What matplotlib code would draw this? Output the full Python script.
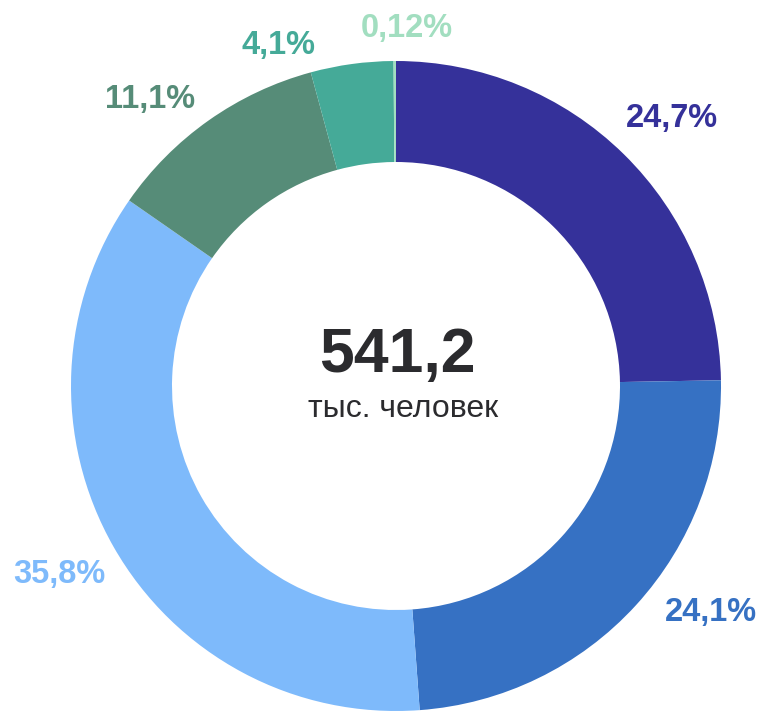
import matplotlib
matplotlib.use("Agg")
import matplotlib.pyplot as plt

# Data
shares = [24.7, 24.1, 35.8, 11.1, 4.1, 0.12]
labels = ["24,7%", "24,1%", "35,8%", "11,1%", "4,1%", "0,12%"]
colors = ["#35319A", "#3671C3", "#7EBAFB", "#568C78", "#45AA98", "#A2DEC0"]
total_value = "541,2"
total_unit = "тыс. человек"

# Layout (pixel space, y measured from top)
W, H = 762, 711
cx, cy, R, ring = 396, 386, 325, 101
label_pos = [(672, 127), (711, 621), (59, 583), (150, 108), (279, 54), (407, 37)]

plt.rcParams['font.family'] = ['Liberation Sans', 'DejaVu Sans']
fig = plt.figure(figsize=(W / 100, H / 100), dpi=100)
ax = fig.add_axes([0, 0, 1, 1])
ax.pie(shares, colors=colors, startangle=90, counterclock=False,
       center=(cx, H - cy), radius=R,
       wedgeprops=dict(width=ring, linewidth=0))
ax.set_xlim(0, W)
ax.set_ylim(0, H)
ax.set_aspect('equal')
ax.axis('off')

for (x, y), lab, col in zip(label_pos, labels, colors):
    ax.text(x, H - y, lab, color=col, fontsize=23.5, fontweight='bold',
            ha='center', va='baseline')

ax.text(cx + 1, H - 372, total_value, color="#2B2B2E", fontsize=45,
        fontweight='bold', ha='center', va='baseline')
ax.text(cx + 7, H - 417, total_unit, color="#2B2B2E", fontsize=23,
        ha='center', va='baseline')

fig.savefig("out.png", dpi=100)
